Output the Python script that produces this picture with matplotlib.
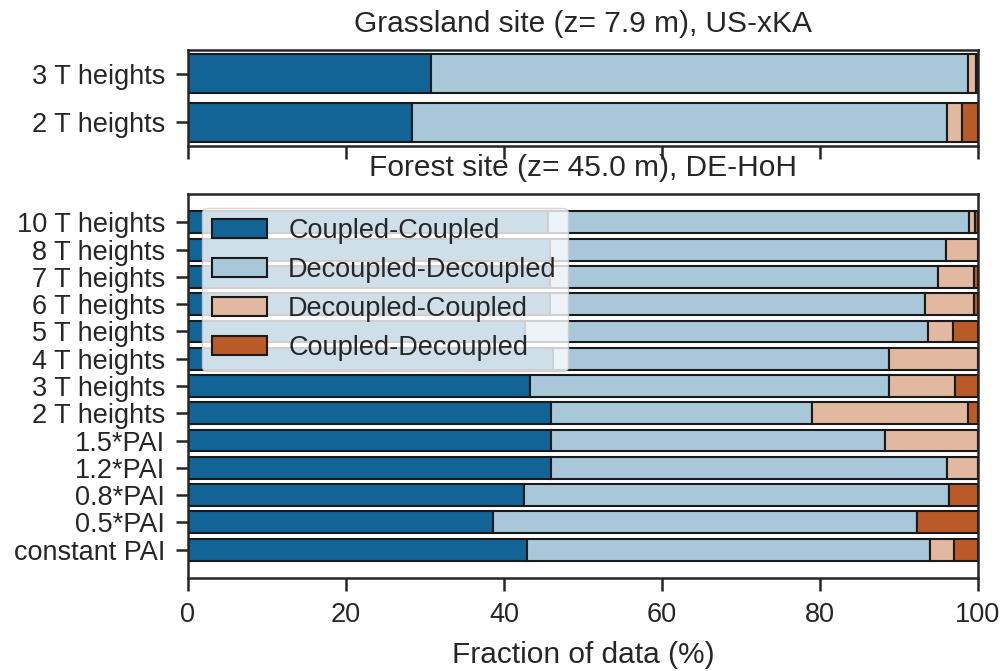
import numpy as np
import matplotlib.pyplot as plt
import seaborn as sns

sns.set_style("ticks")
plt.rcParams['font.family'] = ['Liberation Sans', 'DejaVu Sans']

# Data (fraction of data in %)
grass_labels = ["3 T heights", "2 T heights"]
grass_cc = [30.8, 28.4]
grass_dd = [67.9, 67.7]
grass_dc = [1.1, 1.9]
grass_cd = [0.2, 2.0]

forest_labels = ["10 T heights", "8 T heights", "7 T heights", "6 T heights",
                 "5 T heights", "4 T heights", "3 T heights", "2 T heights",
                 "1.5*PAI", "1.2*PAI", "0.8*PAI", "0.5*PAI", "constant PAI"]
forest_cc = [45.6, 45.8, 45.8, 45.8, 42.7, 46.2, 43.3, 46.0, 46.0, 46.0, 42.5, 38.6, 42.9]
forest_dd = [53.3, 50.2, 49.2, 47.5, 51.0, 42.6, 45.5, 33.0, 42.2, 50.1, 53.9, 53.7, 51.0]
forest_dc = [0.7, 4.0, 4.5, 6.2, 3.1, 11.2, 8.3, 19.7, 11.8, 3.9, 0.0, 0.0, 3.1]
forest_cd = [0.4, 0.0, 0.5, 0.5, 3.2, 0.0, 2.9, 1.3, 0.0, 0.0, 3.6, 7.7, 3.0]

class_names = ["Coupled-Coupled", "Decoupled-Decoupled", "Decoupled-Coupled", "Coupled-Decoupled"]
colors = ["#126496", "#a8c8da", "#e2b8a0", "#b95a28"]

fig, (ax1, ax2) = plt.subplots(2, 1, figsize=(10.03, 6.71), dpi=100, sharex=True,
                               gridspec_kw={'height_ratios': [1, 4], 'hspace': 0.2})
fig.subplots_adjust(left=0.1874, right=0.975, top=0.9255, bottom=0.1386)


def stacked(ax, labels, series):
    y = np.arange(len(labels))
    left = np.zeros(len(labels))
    for vals, col, name in zip(series, colors, class_names):
        ax.barh(y, vals, left=left, height=0.8, color=col, edgecolor='.1',
                linewidth=1.5, label=name)
        left += np.array(vals)
    ax.set_yticks(y)
    ax.set_yticklabels(labels)
    ax.invert_yaxis()


stacked(ax1, grass_labels, [grass_cc, grass_dd, grass_dc, grass_cd])
stacked(ax2, forest_labels, [forest_cc, forest_dd, forest_dc, forest_cd])

ax1.set_title("Grassland site (z= 7.9 m), US-xKA", fontsize=21.5, color='.15', pad=13)
ax2.set_title("Forest site (z= 45.0 m), DE-HoH", fontsize=21.5, color='.15', pad=13)
ax2.set_xlim(0, 100)
ax2.set_xticks([0, 20, 40, 60, 80, 100])
ax2.set_xlabel("Fraction of data (%)", fontsize=21.5, color='.15', labelpad=9)

for ax in (ax1, ax2):
    ax.tick_params(labelsize=19.5, length=9, width=1.8, colors='.15')
    ax.tick_params(axis='y', pad=7.5)
    ax.tick_params(axis='x', pad=8.5)
    for s in ax.spines.values():
        s.set_linewidth(1.8)
        s.set_color('.15')

leg = ax2.legend(loc='upper left', fontsize=19.5, labelspacing=0.47)

plt.savefig("out.png", dpi=100)
